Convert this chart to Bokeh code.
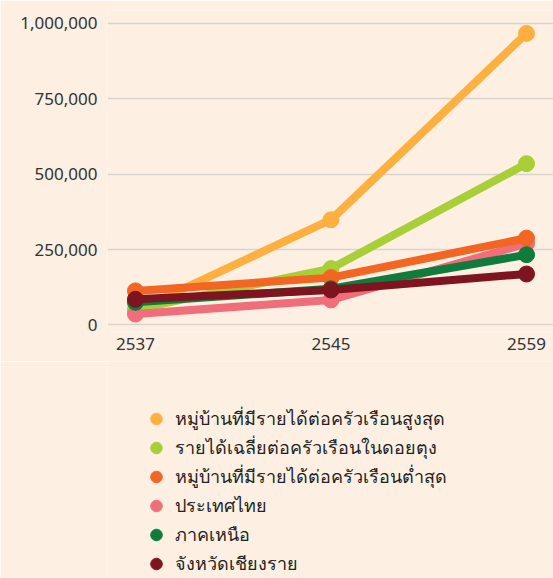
from bokeh.plotting import figure
from bokeh.layouts import column
from bokeh.models import FixedTicker, NumeralTickFormatter, Legend, LegendItem, Range1d
from bokeh.embed import file_html
from bokeh.resources import INLINE

years = ["2537", "2545", "2559"]
series_names = [
    "หมู่บ้านที่มีรายได้ต่อครัวเรือนสูงสุด",
    "รายได้เฉลี่ยต่อครัวเรือนในดอยตุง",
    "หมู่บ้านที่มีรายได้ต่อครัวเรือนต่ำสุด",
    "ประเทศไทย",
    "ภาคเหนือ",
    "จังหวัดเชียงราย",
]
highest_village = [46000, 349000, 967000]
doi_tung_avg = [52000, 187000, 535000]
lowest_village = [113000, 157000, 288000]
thailand = [36000, 83000, 270000]
north = [75000, 120000, 233000]
chiang_rai = [85000, 116000, 169000]
series_values = [highest_village, doi_tung_avg, lowest_village, thailand, north, chiang_rai]
colors = ["#fdb040", "#a8cf38", "#f26522", "#f06e79", "#0f7b3c", "#7d1420"]
draw_order = [0, 1, 3, 2, 4, 5]
y_ticks = [0, 250000, 500000, 750000, 1000000]

BG = "#fdf0e3"
FONT = "Noto Sans"

p = figure(width=553, height=361, output_backend="svg", toolbar_location=None,
           x_range=Range1d(-0.143, 2.138), y_range=Range1d(-25000, 1043000),
           min_border_left=107, min_border_right=0, min_border_top=10, min_border_bottom=29,
           background_fill_color=BG, border_fill_color=BG, outline_line_color=None)

xs = list(range(len(years)))
for i in draw_order:
    vals, c = series_values[i], colors[i]
    p.line(xs, vals, line_color=c, line_width=8)
    p.scatter(xs, vals, size=16, fill_color=c, line_color=c)

p.xgrid.grid_line_color = None
p.ygrid.grid_line_color = "#d8d3cd"
p.ygrid.grid_line_width = 1.5
p.ygrid.ticker = FixedTicker(ticks=y_ticks)

p.yaxis.ticker = FixedTicker(ticks=y_ticks)
p.yaxis.formatter = NumeralTickFormatter(format="0,0")
p.xaxis.ticker = FixedTicker(ticks=xs)
p.xaxis.major_label_overrides = {i: y for i, y in enumerate(years)}
for ax in (p.xaxis, p.yaxis):
    ax.axis_line_color = None
    ax.major_tick_line_color = None
    ax.minor_tick_line_color = None
    ax.major_tick_in = 0
    ax.major_tick_out = 0
    ax.major_label_text_font = FONT
    ax.major_label_text_font_size = "17px"
    ax.major_label_text_color = "#333333"
p.yaxis.major_label_standoff = 10
p.xaxis.major_label_standoff = 5

# legend figure (series markers kept out of view; only the legend shows)
lg = figure(width=553, height=217, output_backend="svg", toolbar_location=None,
            x_range=Range1d(10, 11), y_range=Range1d(0, 1),
            x_axis_location=None, y_axis_location=None,
            min_border_left=0, min_border_right=0, min_border_top=0, min_border_bottom=0,
            background_fill_color=BG, border_fill_color=BG, outline_line_color=None)
lg.xgrid.visible = False
lg.ygrid.visible = False
items = []
for name, vals, c in zip(series_names, series_values, colors):
    r = lg.scatter(xs, vals, size=16, fill_color=c, line_color=c)
    items.append(LegendItem(label=name, renderers=[r]))

legend = Legend(items=items, orientation="vertical", location=(33, 0),
                glyph_width=32, glyph_height=29, label_height=29, spacing=0,
                padding=0, margin=0, border_line_color=None, background_fill_alpha=0,
                label_text_font=FONT, label_text_font_size="18px", label_standoff=3,
                label_text_color="#222222")
lg.add_layout(legend, "center")

layout = column(p, lg, spacing=0)
open("out.html", "w").write(file_html(layout, INLINE))
